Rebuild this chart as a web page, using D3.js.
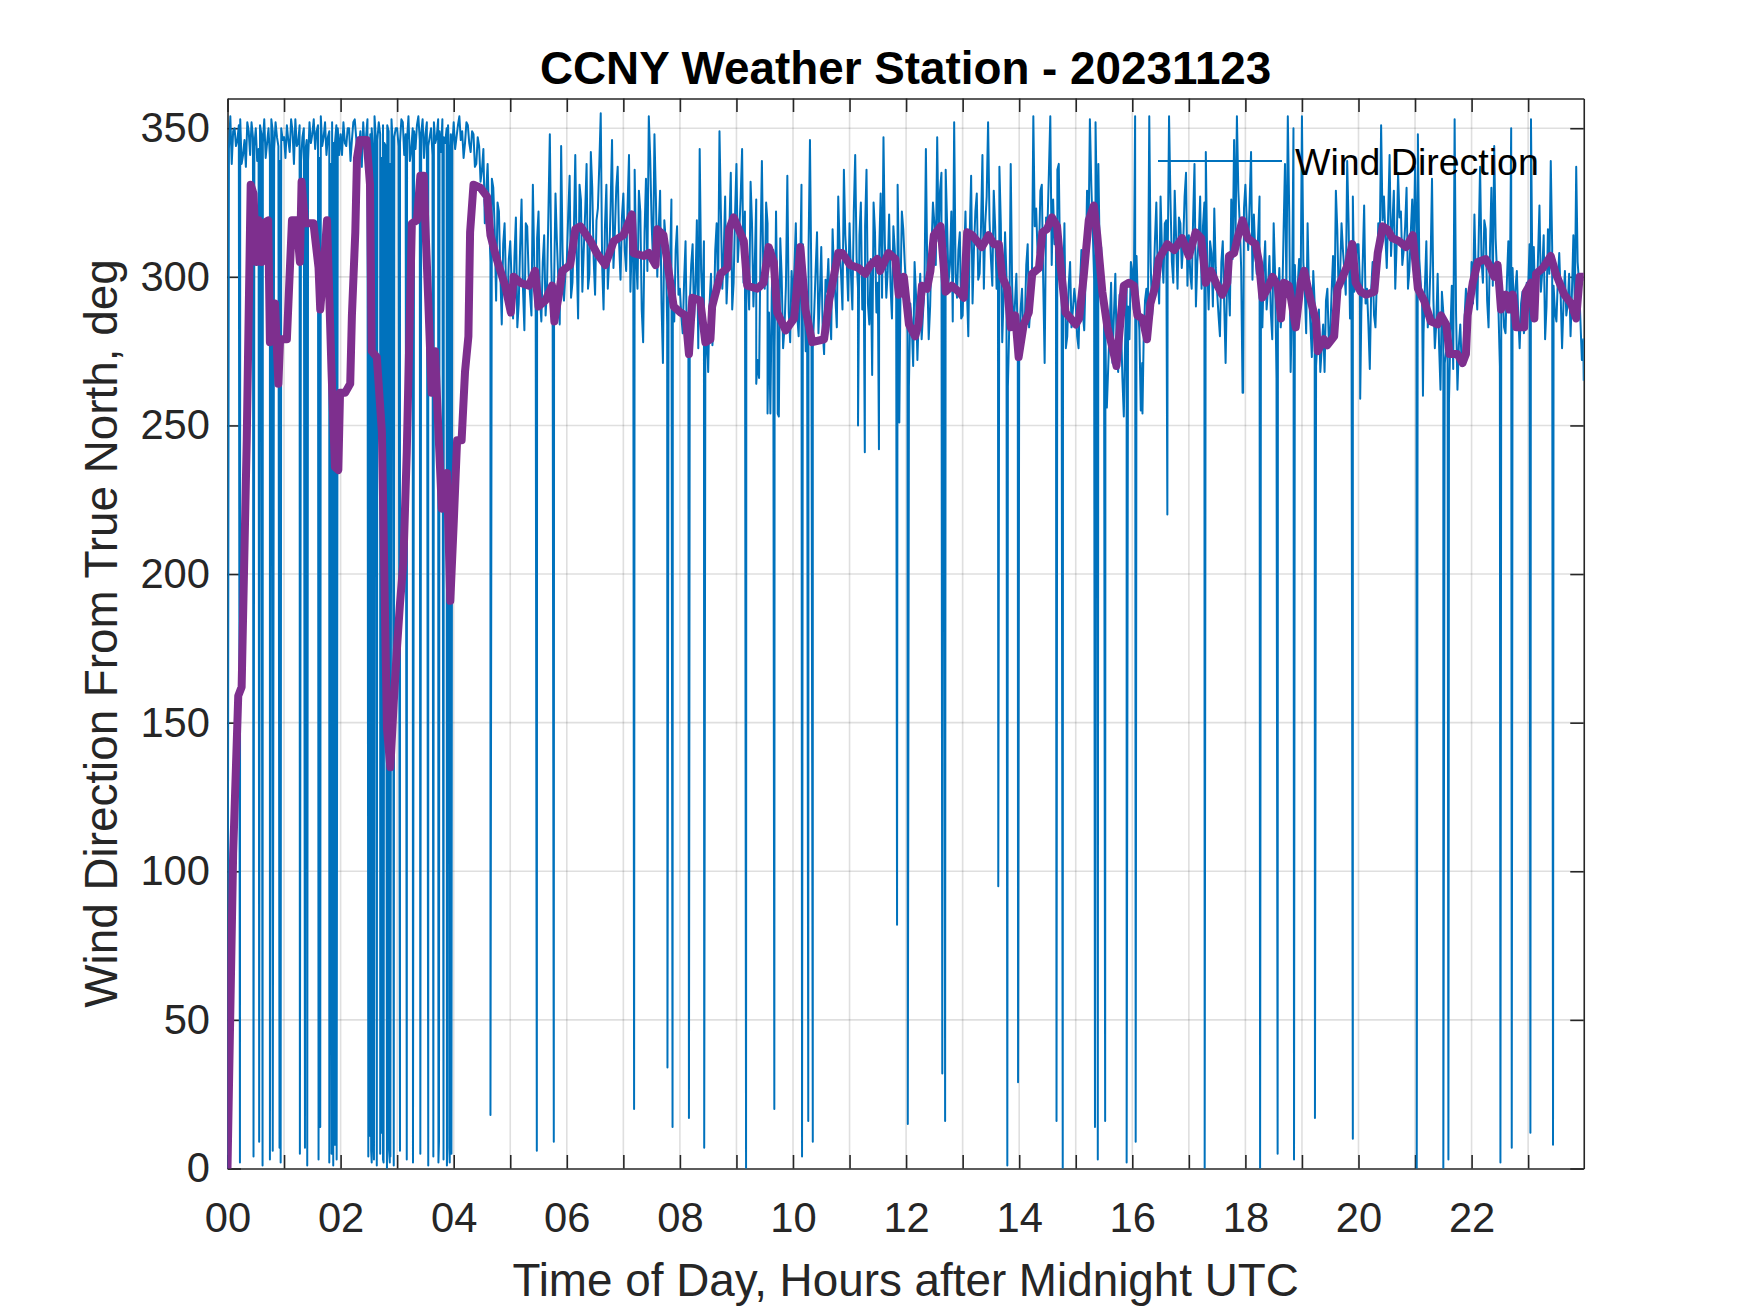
<!DOCTYPE html>
<html>
<head>
<meta charset="utf-8">
<script src="https://cdn.jsdelivr.net/npm/d3@7"></script>
<style>
  html, body { margin: 0; padding: 0; background: #fff; }
  svg { display: block; font-family: "Liberation Sans", Arial, Helvetica, sans-serif; }
</style>
</head>
<body>
<div id="chart"></div>
<script>
// regular readings, one every 3 minutes on the hour grid, one row per hour (00 .. 23)
const sampleStepHours = 0.05;
const directionSamples = [
  0, 354, 349, 344, 351, 338, 346, 352, 341, 347, 350, 343, 348, 353, 345, 340, 349, 352, 344, 350,
  347, 351, 342, 349, 353, 345, 339, 350, 346, 352, 348, 343, 351, 354, 347, 341, 349, 352, 345, 350,
  348, 352, 344, 350, 346, 353, 341, 349, 352, 347, 343, 350, 354, 346, 348, 351, 344, 349, 353, 347,
  350, 345, 352, 348, 354, 343, 349, 351, 346, 353, 348, 344, 350, 352, 347, 349, 353, 345, 351, 348,
  352, 347, 354, 349, 345, 351, 342, 348, 338, 344, 336, 318, 338, 305, 330, 292, 322, 284, 318, 290,
  312, 286, 320, 291, 326, 282, 317, 294, 331, 288, 322, 285, 314, 296, 348, 283, 328, 299, 344, 292,
  305, 334, 298, 341, 286, 326, 309, 338, 301, 330, 294, 323, 355, 289, 331, 306, 346, 315, 337, 299,
  328, 302, 341, 312, 336, 296, 322, 278, 333, 354, 318, 348, 300, 329, 271, 312, 292, 326, 285, 317,
  296, 281, 312, 279, 304, 286, 319, 343, 290, 272, 268, 301, 285, 318, 349, 296, 327, 303, 335, 298,
  338, 315, 343, 322, 301, 332, 290, 326, 266, 339, 296, 318, 254, 309, 322, 253, 300, 283, 334, 278,
  292, 318, 280, 331, 297, 285, 346, 276, 302, 281, 310, 274, 295, 288, 316, 293, 327, 301, 336, 305,
  318, 289, 341, 296, 325, 302, 336, 284, 267, 315, 298, 328, 347, 293, 321, 286, 309, 331, 294, 316,
  296, 263, 284, 305, 272, 301, 288, 343, 279, 310, 318, 347, 329, 306, 336, 298, 322, 352, 293, 315,
  287, 322, 280, 334, 309, 328, 301, 341, 318, 352, 306, 329, 296, 337, 278, 315, 263, 338, 282, 301,
  274, 296, 285, 311, 290, 354, 323, 308, 331, 271, 317, 354, 326, 312, 338, 294, 318, 280, 305, 289,
  291, 276, 309, 282, 329, 353, 316, 352, 338, 310, 292, 256, 283, 271, 301, 268, 285, 253, 296, 279,
  302, 354, 291, 255, 278, 296, 354, 287, 312, 301, 327, 298, 319, 354, 305, 329, 296, 318, 311, 335,
  314, 296, 338, 305, 327, 317, 342, 289, 308, 323, 295, 280, 312, 271, 299, 326, 346, 354, 318, 261,
  331, 309, 342, 321, 301, 327, 283, 312, 296, 288, 318, 266, 303, 290, 338, 354, 268, 350, 285, 306,
  354, 296, 318, 284, 302, 270, 289, 276, 268, 296, 281, 307, 329, 293, 318, 302, 339, 286, 327, 298,
  311, 288, 324, 296, 269, 305, 283, 318, 351, 327, 303, 341, 318, 296, 335, 322, 309, 330, 302, 326,
  337, 348, 298, 281, 312, 290, 333, 276, 301, 262, 288, 275, 258, 297, 353, 262, 284, 270, 296, 279,
  305, 321, 289, 337, 298, 316, 283, 330, 344, 301, 270, 295, 281, 312, 350, 287, 302, 276, 295, 284,
  296, 353, 310, 288, 324, 302, 279, 316, 339, 297, 285, 308, 276, 302, 291, 280, 314, 337, 298, 272,
];

// readings half way between the ones above (grid shifted by 1.5 minutes)
const directionMidSamples = [
  343, 338, 350, 346, 353, 341, 337, 349, 352, 344, 339, 351, 345, 340, 350, 353, 343, 347, 339, 346,
  340, 346, 353, 338, 344, 351, 347, 342, 339, 345, 353, 349, 340, 344, 352, 347, 338, 345, 351, 341,
  341, 345, 350, 339, 352, 347, 344, 337, 343, 353, 348, 341, 346, 352, 340, 345, 351, 338, 344, 350,
  344, 353, 341, 346, 339, 350, 343, 354, 348, 340, 352, 347, 341, 345, 353, 342, 347, 350, 339, 344,
  343, 351, 346, 340, 352, 345, 349, 337, 347, 332, 343, 329, 320, 333, 316, 325, 301, 311, 297, 306,
  298, 307, 283, 310, 296, 318, 301, 287, 304, 313, 293, 305, 287, 322, 305, 297, 312, 284, 309, 301,
  321, 293, 315, 307, 331, 295, 322, 296, 342, 306, 319, 338, 304, 317, 296, 324, 303, 330, 311, 320,
  309, 324, 295, 318, 307, 329, 289, 315, 302, 340, 305, 327, 316, 291, 319, 284, 303, 297, 309, 294,
  287, 299, 274, 291, 311, 297, 276, 302, 312, 283, 291, 277, 309, 294, 322, 308, 291, 316, 289, 321,
  305, 327, 298, 311, 289, 318, 305, 272, 309, 301, 325, 288, 295, 276, 288, 313, 276, 297, 288, 302,
  303, 287, 299, 311, 275, 309, 298, 288, 315, 294, 282, 299, 306, 279, 301, 283, 310, 289, 314, 292,
  301, 322, 306, 314, 289, 317, 291, 306, 325, 288, 309, 293, 311, 302, 297, 317, 292, 300, 322, 305,
  281, 291, 270, 294, 288, 279, 296, 301, 290, 325, 304, 312, 335, 293, 318, 304, 285, 301, 309, 286,
  305, 296, 314, 291, 322, 299, 317, 296, 327, 319, 297, 317, 305, 318, 294, 300, 284, 297, 291, 278,
  289, 278, 304, 283, 299, 317, 308, 329, 298, 320, 335, 304, 311, 336, 301, 292, 276, 297, 283, 296,
  280, 297, 288, 301, 311, 331, 299, 321, 306, 289, 281, 270, 298, 287, 275, 294, 266, 280, 290, 305,
  289, 307, 282, 271, 292, 283, 305, 296, 325, 291, 309, 318, 304, 326, 298, 313, 320, 303, 327, 297,
  301, 319, 290, 313, 296, 325, 305, 312, 290, 303, 287, 305, 291, 298, 287, 306, 313, 329, 303, 323,
  318, 325, 299, 308, 314, 293, 302, 289, 307, 279, 301, 291, 283, 315, 296, 322, 291, 304, 297, 291,
  305, 281, 295, 273, 291, 279, 268, 284, 292, 278, 295, 289, 316, 301, 309, 294, 318, 304, 295, 311,
  298, 305, 291, 284, 296, 287, 299, 310, 319, 314, 321, 307, 329, 311, 320, 304, 317, 296, 315, 308,
  314, 306, 291, 297, 283, 305, 292, 284, 277, 295, 271, 284, 281, 269, 288, 277, 270, 286, 275, 289,
  291, 299, 312, 306, 319, 292, 309, 297, 313, 289, 296, 283, 299, 290, 303, 296, 287, 291, 281, 298,
  311, 299, 290, 307, 295, 314, 290, 301, 310, 288, 299, 294, 291, 287, 301, 295, 290, 305, 285, 279,
];

// single-minute readings in between: drops through north and the last reading
const dropHours = [
  0.22, 0.46, 0.56, 0.62, 0.75, 0.80, 0.92, 0.94, 1.28, 1.37, 1.41, 1.61, 1.64, 1.80, 1.84, 1.87,
  1.90, 1.93, 2.49, 2.52, 2.54, 2.55, 2.58, 2.59, 2.64, 2.70, 2.73, 2.75, 2.76, 2.82, 2.85, 2.87,
  2.88, 2.94, 3.05, 3.17, 3.28, 3.41, 3.55, 3.64, 3.73, 3.74, 3.82, 3.88, 3.89, 3.93, 3.96,
  4.65, 5.47, 5.77, 7.19, 7.78, 7.87, 8.16, 8.43, 9.17, 9.35, 9.55, 9.67, 9.73, 10.16, 10.27, 10.35,
  11.15, 11.27, 11.52, 11.84, 11.88, 12.03, 12.64, 12.69, 13.63, 13.79, 13.98, 14.66, 14.77, 15.34,
  15.39, 15.52, 15.54, 15.90, 16.06, 16.18, 16.62, 17.28, 17.96, 18.26, 18.57, 18.86, 19.23, 19.90,
  20.03, 21.03, 21.14, 21.50, 21.59, 22.51, 22.71, 23.04, 23.44, 23.983,
];
const dropValues = [
  2, 4, 9, 1, 3, 6, 7, 2, 5, 7, 1, 3, 14, 2, 5, 1,
  8, 3, 4, 11, 6, 2, 9, 3, 1, 5, 12, 3, 2, 0, 8, 2,
  4, 1, 6, 3, 2, 5, 1, 4, 2, 9, 3, 1, 7, 2, 5,
  18, 6, 9, 20, 34, 14, 17, 7, 0, 264, 254, 20, 254, 4, 16, 9,
  250, 241, 242, 82, 251, 15, 32, 16, 95, 1, 29, 16, 0, 14,
  3, 16, 258, 2, 9, 254, 220, 0, 261, 0, 5, 3, 17, 10,
  259, 0, 260, 0, 3, 2, 7, 12, 8, 265,
];

// running mean (thick purple line)
const averageHours = [
  0, 0.10, 0.19, 0.25, 0.34, 0.41, 0.46, 0.51, 0.55, 0.60, 0.63, 0.72, 0.75, 0.84, 0.90, 0.93,
  1.05, 1.14, 1.22, 1.28, 1.31, 1.37, 1.52, 1.61, 1.64, 1.70, 1.76, 1.84, 1.90, 1.96, 1.99,
  2.08, 2.17, 2.20, 2.26, 2.29, 2.34, 2.46, 2.52, 2.55, 2.64, 2.73, 2.82, 2.88, 2.94,
  3.00, 3.05, 3.11, 3.17, 3.23, 3.26, 3.35, 3.41, 3.47, 3.50, 3.55, 3.61, 3.67, 3.73, 3.79, 3.88, 3.94,
  4.00, 4.06, 4.14, 4.20, 4.26, 4.29, 4.35, 4.47, 4.59, 4.65, 4.76, 4.91,
  5.01, 5.06, 5.18, 5.33, 5.44, 5.50, 5.62, 5.74, 5.78, 5.86, 5.92,
  6.06, 6.15, 6.24, 6.42, 6.53, 6.68, 6.83,
  7.00, 7.15, 7.18, 7.36, 7.45, 7.57, 7.60, 7.71, 7.80, 7.89,
  8.01, 8.10, 8.16, 8.22, 8.36, 8.45, 8.54, 8.57, 8.72, 8.84, 8.87, 8.95,
  9.13, 9.19, 9.37, 9.48, 9.57, 9.66, 9.72, 9.87,
  10.02, 10.13, 10.22, 10.34, 10.55, 10.64, 10.73, 10.80, 10.87,
  11.01, 11.16, 11.28, 11.37, 11.49, 11.54, 11.69, 11.81, 11.87, 11.96,
  12.05, 12.16, 12.22, 12.28, 12.37, 12.43, 12.49, 12.61, 12.70, 12.81, 12.93,
  13.02, 13.08, 13.17, 13.34, 13.46, 13.55, 13.64, 13.70, 13.79, 13.85, 13.93, 13.99,
  14.08, 14.17, 14.23, 14.35, 14.41, 14.49, 14.58, 14.67, 14.73, 14.82, 14.91,
  15.00, 15.06, 15.14, 15.23, 15.32, 15.38, 15.47, 15.56, 15.65, 15.72, 15.79, 15.85, 15.94,
  16.03, 16.09, 16.18, 16.26, 16.32, 16.41, 16.47, 16.62, 16.74, 16.88,
  17.00, 17.12, 17.22, 17.30, 17.39, 17.48, 17.59, 17.68, 17.71, 17.80, 17.86, 17.95,
  18.04, 18.18, 18.24, 18.30, 18.39, 18.48, 18.57, 18.63, 18.68, 18.77, 18.89, 18.98,
  19.04, 19.13, 19.25, 19.28, 19.39, 19.45, 19.57, 19.63, 19.72, 19.81, 19.89, 19.95,
  20.04, 20.13, 20.28, 20.34, 20.43, 20.51, 20.60, 20.72, 20.84, 20.96,
  21.05, 21.16, 21.28, 21.40, 21.46, 21.55, 21.61, 21.75, 21.84, 21.90, 21.93,
  22.02, 22.11, 22.25, 22.34, 22.40, 22.46, 22.52, 22.61, 22.67, 22.73, 22.79, 22.93, 22.96,
  23.05, 23.11, 23.14, 23.26, 23.40, 23.49, 23.64, 23.76, 23.85, 23.91, 23.983,
];
const averageValues = [
  0, 106, 159, 162, 245, 331, 328, 305, 319, 305, 318, 319, 278, 291, 264, 279,
  279, 319, 319, 305, 332, 318, 318, 303, 289, 303, 319, 268, 236, 235, 261,
  261, 264, 287, 315, 340, 346, 346, 331, 275, 273, 248, 148, 135, 157,
  176, 190, 204, 241, 292, 318, 319, 334, 334, 317, 292, 261, 275, 248, 222, 234, 191,
  217, 245, 245, 268, 280, 315, 331, 330, 327, 314, 306, 297,
  288, 300, 298, 297, 302, 290, 292, 297, 285, 294, 302,
  304, 316, 317, 312, 308, 304, 312,
  314, 321, 308, 307, 308, 304, 316, 314, 302, 290,
  288, 287, 274, 293, 292, 278, 279, 290, 301, 303, 316, 320,
  312, 297, 296, 298, 310, 305, 288, 282,
  286, 310, 289, 278, 279, 292, 301, 308, 308,
  304, 303, 301, 304, 306, 302, 308, 306, 294, 300,
  284, 280, 284, 297, 296, 302, 314, 317, 295, 297, 295,
  293, 315, 314, 310, 314, 311, 311, 300, 296, 283, 287, 273,
  284, 288, 301, 303, 315, 316, 320, 317, 304, 288, 286,
  284, 286, 300, 319, 324, 314, 295, 283, 276, 270, 285, 297, 298,
  297, 287, 286, 279, 291, 297, 306, 311, 309, 313,
  307, 315, 313, 298, 302, 298, 294, 298, 307, 308, 313, 319,
  313, 311, 305, 293, 296, 300, 297, 286, 298, 297, 283, 298,
  302, 294, 285, 275, 279, 277, 280, 296, 300, 304, 311, 298,
  295, 294, 295, 308, 317, 316, 313, 312, 310, 314,
  296, 292, 285, 284, 287, 284, 274, 274, 271, 274, 287,
  298, 305, 306, 303, 300, 304, 289, 294, 289, 294, 283, 283, 295,
  298, 286, 301, 303, 307, 301, 294, 291, 286, 300, 300,
];

const hourTicks = d3.range(0, 24);
const directionTicks = [0, 50, 100, 150, 200, 250, 300, 350];
const titleText = "CCNY Weather Station - 20231123";
const xLabelText = "Time of Day, Hours after Midnight UTC";
const yLabelText = "Wind Direction From True North, deg";
const legendText = "Wind Direction";

const width = 1750;
const height = 1313;
const margin = { top: 98.5, right: 166.25, bottom: 144.5, left: 227.5 };
const tickLen = 13.5;
const axisColor = "#262626";
const blue = "#0072BD";
const purple = "#7E2F8E";

const x = d3.scaleLinear().domain([0, 1439 / 60]).range([margin.left, width - margin.right]);
const y = d3.scaleLinear().domain([0, 360]).range([height - margin.bottom, margin.top]);
const plotW = width - margin.left - margin.right;
const plotH = height - margin.top - margin.bottom;

const samples = directionSamples.map((v, i) => ({ t: i * sampleStepHours, v }));
const midSamples = directionMidSamples.map((v, i) => ({ t: (i + 0.5) * sampleStepHours, v }));
const drops = dropHours.map((t, i) => ({ t, v: dropValues[i] }));
const raw = samples.concat(midSamples, drops).sort((a, b) => a.t - b.t);
const average = averageHours.map((t, i) => ({ t, v: averageValues[i] }));

const svg = d3.select("#chart")
  .append("svg")
  .attr("width", width)
  .attr("height", height)
  .attr("viewBox", [0, 0, width, height]);

svg.append("defs")
  .append("clipPath")
  .attr("id", "plot-clip")
  .append("rect")
  .attr("x", margin.left)
  .attr("y", margin.top)
  .attr("width", plotW)
  .attr("height", plotH);

// grid
const gGrid = svg.append("g").attr("class", "grid");
gGrid.selectAll(".vgrid")
  .data(hourTicks.slice(1))
  .join("line")
  .attr("class", "vgrid")
  .attr("x1", (d) => x(d))
  .attr("x2", (d) => x(d))
  .attr("y1", margin.top)
  .attr("y2", height - margin.bottom);
gGrid.selectAll(".hgrid")
  .data(directionTicks.slice(1))
  .join("line")
  .attr("class", "hgrid")
  .attr("x1", margin.left)
  .attr("x2", width - margin.right)
  .attr("y1", (d) => y(d))
  .attr("y2", (d) => y(d));
gGrid.selectAll("line")
  .attr("stroke", axisColor)
  .attr("stroke-opacity", 0.15)
  .attr("stroke-width", 1.6);

// axes, ticks pointing inward
const styleAxis = (g, size) => {
  g.attr("font-family", null).attr("font-size", size);
  g.select(".domain").attr("stroke", axisColor).attr("stroke-width", 1.6);
  g.selectAll(".tick line").attr("stroke", axisColor).attr("stroke-width", 1.6);
  g.selectAll(".tick text").attr("fill", axisColor);
};

svg.append("g")
  .attr("transform", `translate(0,${height - margin.bottom})`)
  .call(d3.axisBottom(x)
    .tickValues(hourTicks)
    .tickSizeInner(-tickLen)
    .tickSizeOuter(0)
    .tickPadding(34)
    .tickFormat((d) => (d % 2 === 0 ? String(d).padStart(2, "0") : "")))
  .call(styleAxis, 41.7);

svg.append("g")
  .attr("transform", `translate(0,${margin.top})`)
  .call(d3.axisTop(x).tickValues(hourTicks).tickSizeInner(-tickLen).tickSizeOuter(0).tickFormat(""))
  .call(styleAxis, 41.7);

svg.append("g")
  .attr("transform", `translate(${margin.left},0)`)
  .call(d3.axisLeft(y)
    .tickValues(directionTicks)
    .tickSizeInner(-tickLen)
    .tickSizeOuter(0)
    .tickPadding(17.5))
  .call(styleAxis, 41.7);

svg.append("g")
  .attr("transform", `translate(${width - margin.right},0)`)
  .call(d3.axisRight(y).tickValues(directionTicks).tickSizeInner(-tickLen).tickSizeOuter(0).tickFormat(""))
  .call(styleAxis, 41.7);

// data
const line = d3.line().x((d) => x(d.t)).y((d) => y(d.v));
const gLines = svg.append("g").attr("clip-path", "url(#plot-clip)");

gLines.append("path")
  .datum(raw)
  .attr("fill", "none")
  .attr("stroke", blue)
  .attr("stroke-width", 2)
  .attr("stroke-linejoin", "round")
  .attr("d", line);

gLines.append("path")
  .datum(average)
  .attr("fill", "none")
  .attr("stroke", purple)
  .attr("stroke-width", 8)
  .attr("stroke-linejoin", "round")
  .attr("stroke-linecap", "round")
  .attr("d", line);

// legend (no box)
const gLegend = svg.append("g").attr("class", "legend");
gLegend.append("line")
  .attr("x1", 1158)
  .attr("x2", 1282)
  .attr("y1", 161)
  .attr("y2", 161)
  .attr("stroke", blue)
  .attr("stroke-width", 2);
gLegend.append("text")
  .attr("x", 1295)
  .attr("y", 175)
  .attr("font-size", 37.5)
  .attr("fill", "#000")
  .text(legendText);

// titles
svg.append("text")
  .attr("x", margin.left + plotW / 2)
  .attr("y", 84)
  .attr("text-anchor", "middle")
  .attr("font-size", 45.8)
  .attr("font-weight", "bold")
  .attr("fill", "#000")
  .text(titleText);

svg.append("text")
  .attr("x", margin.left + plotW / 2)
  .attr("y", 1296)
  .attr("text-anchor", "middle")
  .attr("font-size", 45.8)
  .attr("fill", axisColor)
  .text(xLabelText);

svg.append("text")
  .attr("transform", `translate(117,${margin.top + plotH / 2}) rotate(-90)`)
  .attr("text-anchor", "middle")
  .attr("font-size", 45.8)
  .attr("fill", axisColor)
  .text(yLabelText);
</script>
</body>
</html>
